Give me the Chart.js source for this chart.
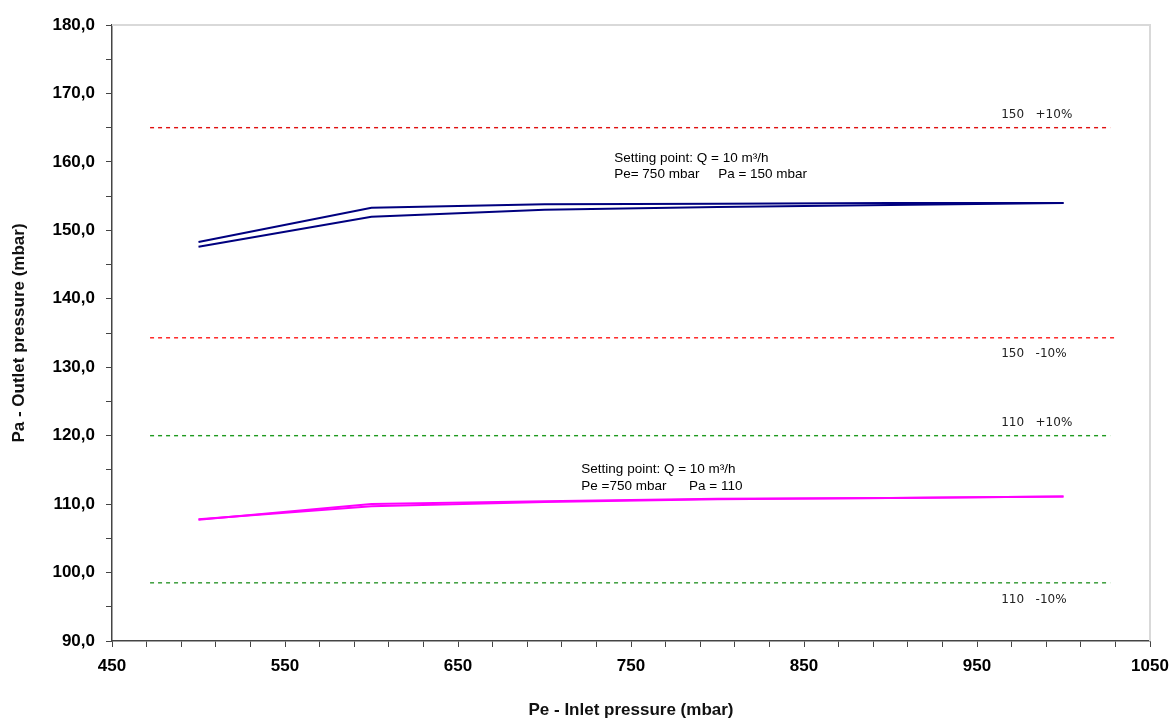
<!DOCTYPE html>
<html><head><meta charset="utf-8">
<script src="https://cdn.jsdelivr.net/npm/chart.js@4.4.0/dist/chart.umd.min.js"></script>
<style>html,body{margin:0;padding:0;background:#fff}#wrap{width:1173px;height:722px}</style>
</head><body><div id="wrap"><canvas id="c" width="1173" height="722"></canvas></div>
<script>
// Inlet pressure (mbar)
const inletPe = [500, 600, 700, 800, 900, 1000];
// Outlet pressure, setting 150 mbar (two runs)
const pa150RunA = [148.3, 153.3, 153.8, 153.9, 154.0, 154.0];
const pa150RunB = [147.6, 152.0, 153.0, 153.4, 153.7, 154.0];
// Outlet pressure, setting 110 mbar (two runs)
const pa110RunA = [107.7, 110.0, 110.4, 110.8, 110.9, 111.1];
const pa110RunB = [107.8, 109.7, 110.3, 110.7, 110.9, 111.1];
// Tolerance reference lines
const refX = [472, 1027];
const refXLong = [472, 1031];
const ref150Plus = 165.0;
const ref150Minus = 134.3;
const ref110Plus = 120.0;
const ref110Minus = 98.5;
const refLabels = ['150   +10%', '150   -10%', '110   +10%', '110   -10%'];
const noteUpper = ['Setting point: Q = 10 m\u00B3/h', 'Pe= 750 mbar     Pa = 150 mbar'];
const noteLower = ['Setting point: Q = 10 m\u00B3/h', 'Pe =750 mbar      Pa = 110'];

const toPts = (xs, ys) => xs.map((x, i) => ({x, y: ys[i]}));
const hline = (v, xs) => [{x: xs[0], y: v}, {x: xs[1], y: v}];

const textPlugin = {
  id: 'texts',
  afterDatasetsDraw(chart) {
    const {ctx, chartArea: ca, scales: {x, y}} = chart;
    ctx.save();
    // light top/right frame
    ctx.strokeStyle = '#d9d9d9';
    ctx.lineWidth = 2;
    ctx.beginPath();
    ctx.moveTo(ca.left, ca.top); ctx.lineTo(ca.right, ca.top); ctx.lineTo(ca.right, ca.bottom);
    ctx.stroke();
    // tolerance labels
    ctx.fillStyle = '#222';
    ctx.font = '12px "DejaVu Sans"';
    ctx.textBaseline = 'middle';
    ctx.textAlign = 'left';
    const lx = x.getPixelForValue(964);
    ctx.fillText(refLabels[0], lx, y.getPixelForValue(ref150Plus) - 13);
    ctx.fillText(refLabels[1], lx, y.getPixelForValue(ref150Minus) + 16);
    ctx.fillText(refLabels[2], lx, y.getPixelForValue(ref110Plus) - 13);
    ctx.fillText(refLabels[3], lx, y.getPixelForValue(ref110Minus) + 17);
    // setting-point notes
    ctx.fillStyle = '#000';
    ctx.font = '13.5px "Liberation Sans"';
    const ux = x.getPixelForValue(740.3), uy = y.getPixelForValue(160.5);
    ctx.fillText(noteUpper[0], ux, uy);
    ctx.fillText(noteUpper[1], ux, uy + 16);
    const bx = x.getPixelForValue(721.3), by = y.getPixelForValue(115.1);
    ctx.fillText(noteLower[0], bx, by);
    ctx.fillText(noteLower[1], bx, by + 17);
    ctx.restore();
  }
};

const lineDs = (data, color) => ({data, borderColor: color, borderWidth: 2, pointRadius: 0, fill: false, tension: 0});
const refDs = (v, xs, color) => ({data: hline(v, xs), borderColor: color, borderWidth: 1.4, borderDash: [4, 4], pointRadius: 0, fill: false});

new Chart(document.getElementById('c'), {
  type: 'line',
  data: {
    datasets: [
      refDs(ref150Plus, refX, '#e01010'),
      refDs(ref150Minus, refXLong, '#ff1a1a'),
      refDs(ref110Plus, refX, '#1f9a1f'),
      refDs(ref110Minus, refX, '#2e962e'),
      lineDs(toPts(inletPe, pa150RunA), '#00007f'),
      lineDs(toPts(inletPe, pa150RunB), '#00007f'),
      lineDs(toPts(inletPe, pa110RunA), '#ff00ff'),
      lineDs(toPts(inletPe, pa110RunB), '#ff00ff')
    ]
  },
  options: {
    responsive: false,
    animation: false,
    layout: {padding: {top: 25, right: 23, left: 0, bottom: 0}},
    plugins: {legend: {display: false}, tooltip: {enabled: false}},
    scales: {
      x: {
        type: 'linear', min: 450, max: 1050,
        afterFit: s => { s.height = 81; s.paddingRight = 0; s.paddingLeft = 0; },
        afterBuildTicks: s => { const t = []; for (let v = 450; v <= 1050; v += 20) t.push({value: v}); s.ticks = t; },
        ticks: {
          autoSkip: false, maxRotation: 0, padding: 9, color: '#000',
          font: {family: '"Liberation Sans", Arial', size: 17, weight: 'bold'},
          callback: v => ((v - 450) % 100 === 0 ? String(v) : '')
        },
        grid: {drawOnChartArea: false, drawTicks: true, tickLength: 6, color: '#444', lineWidth: 1},
        border: {color: '#444', width: 1.5},
        title: {display: true, text: 'Pe - Inlet pressure (mbar)', color: '#111',
          font: {family: '"Liberation Sans", Arial', size: 17, weight: 'bold'}, padding: {top: 0, bottom: 1}}
      },
      y: {
        min: 90, max: 180,
        afterFit: s => { s.width = 112; s.paddingTop = 0; s.paddingBottom = 0; },
        afterBuildTicks: s => { const t = []; for (let v = 90; v <= 180; v += 5) t.push({value: v}); s.ticks = t; },
        ticks: {
          autoSkip: false, padding: 11, color: '#000',
          font: {family: '"Liberation Sans", Arial', size: 17, weight: 'bold'},
          callback: v => (v % 10 === 0 ? v.toFixed(1).replace('.', ',') : '')
        },
        grid: {drawOnChartArea: false, drawTicks: true, tickLength: 6, color: '#444', lineWidth: 1},
        border: {color: '#444', width: 1.5},
        title: {display: true, text: 'Pa - Outlet pressure (mbar)', color: '#111',
          font: {family: '"Liberation Sans", Arial', size: 17, weight: 'bold'}, padding: {top: 9, bottom: 0}}
      }
    }
  },
  plugins: [textPlugin]
});
</script></body></html>
